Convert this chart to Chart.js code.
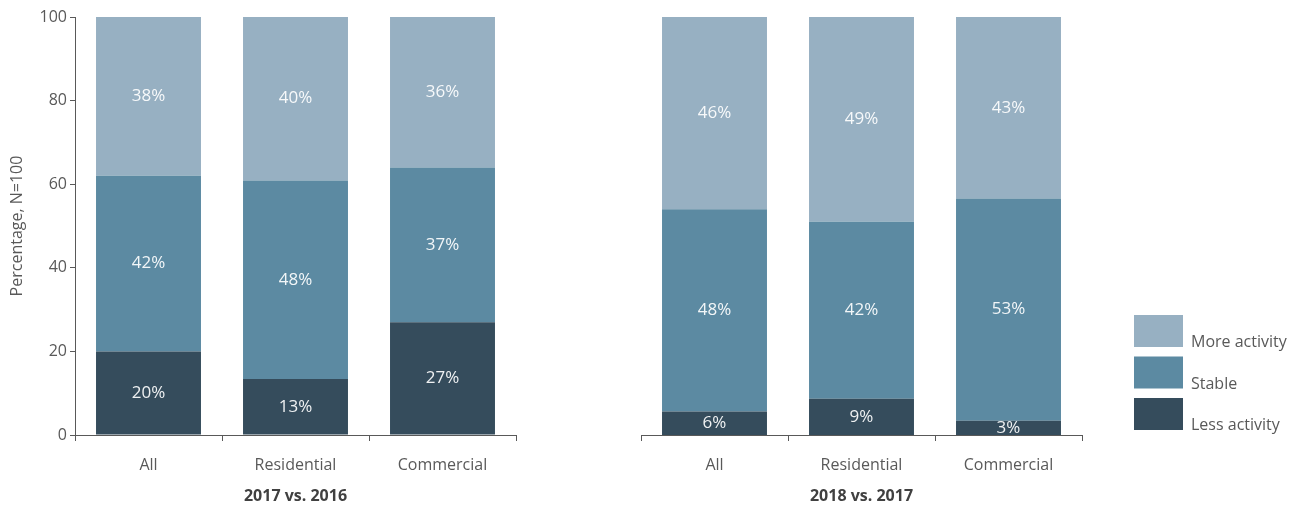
<!DOCTYPE html>
<html><head><meta charset="utf-8">
<script src="https://cdn.jsdelivr.net/npm/chart.js@4.4.1/dist/chart.umd.min.js"></script>
<style>
html,body{margin:0;padding:0;background:#fff;}
#w{position:relative;width:1305px;height:506px;overflow:hidden;}
.c{position:absolute;top:0;height:506px;}
</style></head><body>
<div id="w">
  <div class="c" style="left:0;width:530px"><canvas id="c1"></canvas></div>
  <div class="c" style="left:566px;width:739px"><canvas id="c2"></canvas></div>
</div>
<script>
const categories = ["All", "Residential", "Commercial"];
const seriesNames = ["Less activity", "Stable", "More activity"];
// 2017 vs. 2016
const less2017 = [20, 13.4, 27];
const stable2017 = [42, 47.5, 37];
const more2017 = [38, 39.6, 36];
// 2018 vs. 2017
const less2018 = [5.6, 8.7, 3.4];
const stable2018 = [48.4, 42.3, 53.2];
const more2018 = [46, 49, 43.4];
const panelTitles = ["2017 vs. 2016", "2018 vs. 2017"];
const yTicks = [0, 20, 40, 60, 80, 100];

const colors = ["#354c5c", "#5c8aa2", "#97b0c2"];
const FONT = "'Open Sans', 'Noto Sans', sans-serif";
const AX = "#595959";

const valueLabels = {
  id: 'valueLabels',
  afterDatasetsDraw(chart) {
    const ctx = chart.ctx;
    ctx.save();
    ctx.font = "17px " + FONT;
    ctx.fillStyle = "rgba(255,255,255,0.92)";
    ctx.textAlign = "center";
    ctx.textBaseline = "middle";
    chart.data.datasets.forEach((ds, i) => {
      chart.getDatasetMeta(i).data.forEach((bar, j) => {
        const cy = (bar.y + bar.base) / 2;
        ctx.fillText(Math.round(ds.data[j]) + "%", bar.x, cy);
      });
    });
    ctx.restore();
  }
};

const customLegend = {
  id: 'customLegend',
  afterDraw(chart) {
    if (!chart.options.plugins.customLegend || !chart.options.plugins.customLegend.show) return;
    const ctx = chart.ctx;
    const x0 = chart.chartArea.right + 52;
    const ds = chart.data.datasets.slice().reverse();
    ctx.save();
    ctx.font = "16px " + FONT;
    ctx.textAlign = "left";
    ctx.textBaseline = "alphabetic";
    ds.forEach((d, k) => {
      const y = 315 + k * 41.5;
      ctx.fillStyle = d.backgroundColor;
      ctx.fillRect(x0, y, 49, 32);
      ctx.fillStyle = AX;
      ctx.fillText(d.label, x0 + 57, y + 32);
    });
    ctx.restore();
  }
};

function makeChart(id, less, stable, more, title, showY, showLegend) {
  const data = {
    labels: categories,
    datasets: [less, stable, more].map((arr, i) => ({
      label: seriesNames[i],
      data: arr,
      backgroundColor: colors[i],
      borderWidth: 0,
      barPercentage: 0.714,
      categoryPercentage: 1
    }))
  };
  return new Chart(document.getElementById(id), {
    type: 'bar',
    data,
    plugins: [valueLabels, customLegend],
    options: {
      responsive: true,
      maintainAspectRatio: false,
      animation: false,
      layout: { padding: { top: 17, right: showLegend ? 223 : 14, left: showY ? 0 : 75, bottom: 0 } },
      plugins: { legend: { display: false }, tooltip: { enabled: false }, customLegend: { show: showLegend } },
      scales: {
        x: {
          stacked: true,
          border: { display: true, color: AX, width: 1 },
          grid: { display: true, offset: true, drawOnChartArea: false, drawTicks: true, tickLength: 6, color: AX },
          ticks: { color: AX, font: { family: FONT, size: 16 }, padding: 15 },
          title: { display: true, text: title, color: "#404040", font: { family: FONT, size: 16, weight: 'bold' }, padding: { top: 2, bottom: 0 } },
          afterFit(s) { s.height = 71; }
        },
        y: {
          display: showY,
          stacked: true,
          min: 0, max: 100,
          afterBuildTicks(s) { s.ticks = yTicks.map(v => ({ value: v })); },
          border: { display: true, color: AX, width: 1 },
          grid: { display: true, drawOnChartArea: false, drawTicks: true, tickLength: 5, color: AX },
          ticks: { color: AX, font: { family: FONT, size: 16 }, padding: 3 },
          title: { display: true, text: "Percentage, N=100", color: AX, font: { family: FONT, size: 16 }, padding: { top: 8, bottom: 4 } },
          afterFit(s) { s.width = showY ? 75 : 0; }
        }
      }
    }
  });
}

makeChart('c1', less2017, stable2017, more2017, panelTitles[0], true, false);
makeChart('c2', less2018, stable2018, more2018, panelTitles[1], false, true);
</script>
</body></html>
